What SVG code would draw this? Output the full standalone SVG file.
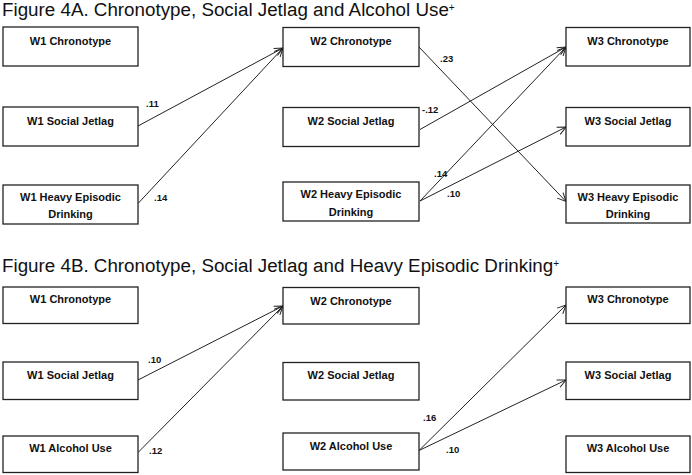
<svg xmlns="http://www.w3.org/2000/svg" width="692" height="475" viewBox="0 0 692 475">
<style>
.title{font-family:"Liberation Sans",Arial,sans-serif;font-size:18.8px;fill:#111}
.sup{font-size:10px}
.box{fill:#fff;stroke:#222;stroke-width:1.3}
.lbl{font-family:"Liberation Sans",Arial,sans-serif;font-weight:bold;font-size:11px;fill:#111;text-anchor:middle}
.coef{font-family:"Liberation Sans",Arial,sans-serif;font-weight:bold;font-size:9.5px;fill:#111}
.edge{fill:none;stroke:#222;stroke-width:1;marker-end:url(#arr)}
</style>
<defs>
<marker id="arr" viewBox="0 0 10 10" refX="9.5" refY="5" markerWidth="10" markerHeight="10" markerUnits="userSpaceOnUse" orient="auto">
<path d="M1,1 L9.5,5 L1,9" fill="none" stroke="#222" stroke-width="1"/>
</marker>
</defs>
<rect width="692" height="475" fill="#fff"/>
<text class="title" x="2" y="16">Figure 4A. Chronotype, Social Jetlag and Alcohol Use<tspan class="sup" dy="-5">+</tspan></text>
<text class="title" x="2" y="272">Figure 4B. Chronotype, Social Jetlag and Heavy Episodic Drinking<tspan class="sup" dy="-5">+</tspan></text>

<g id="connectors">
<path class="edge" d="M138,126 L283,48"/>
<path class="edge" d="M138,203.5 L283,48"/>
<path class="edge" d="M419,47 L566,201.5"/>
<path class="edge" d="M420,129.5 L566,47"/>
<path class="edge" d="M420,201 L566,47"/>
<path class="edge" d="M420,201 L566,127"/>
<path class="edge" d="M138,380 L283,306"/>
<path class="edge" d="M138,452.5 L283,306"/>
<path class="edge" d="M419,450.5 L566,305"/>
<path class="edge" d="M419,450.5 L566,380"/>
<text class="coef" x="146" y="107">.11</text>
<text class="coef" x="154" y="201">.14</text>
<text class="coef" x="440" y="62">.23</text>
<text class="coef" x="422" y="113">-.12</text>
<text class="coef" x="434" y="177">.14</text>
<text class="coef" x="447" y="197">.10</text>
<text class="coef" x="148" y="363">.10</text>
<text class="coef" x="149" y="454">.12</text>
<text class="coef" x="423" y="421">.16</text>
<text class="coef" x="446" y="453">.10</text>
</g>

<g id="a_w1_chronotype"><rect class="box" x="3" y="27" width="135" height="39"/><text class="lbl" x="70.5" y="44.5">W1 Chronotype</text></g>
<g id="a_w1_sj"><rect class="box" x="3" y="107" width="135" height="39"/><text class="lbl" x="70.5" y="124.5">W1 Social Jetlag</text></g>
<g id="a_w1_hed"><rect class="box" x="3" y="185" width="135" height="39"/><text class="lbl" x="70.5" y="200.5">W1 Heavy Episodic</text><text class="lbl" x="70.5" y="218">Drinking</text></g>

<g id="a_w2_chronotype"><rect class="box" x="283" y="27.5" width="136" height="39"/><text class="lbl" x="351" y="45">W2 Chronotype</text></g>
<g id="a_w2_sj"><rect class="box" x="283" y="107.5" width="136" height="39"/><text class="lbl" x="351" y="125">W2 Social Jetlag</text></g>
<g id="a_w2_hed"><rect class="box" x="283" y="182" width="136" height="39"/><text class="lbl" x="351" y="198">W2 Heavy Episodic</text><text class="lbl" x="351" y="215.5">Drinking</text></g>

<g id="a_w3_chronotype"><rect class="box" x="566" y="27.5" width="124" height="38.5"/><text class="lbl" x="628" y="45">W3 Chronotype</text></g>
<g id="a_w3_sj"><rect class="box" x="566" y="107.5" width="124" height="38.5"/><text class="lbl" x="628" y="125">W3 Social Jetlag</text></g>
<g id="a_w3_hed"><rect class="box" x="566" y="185" width="124" height="38"/><text class="lbl" x="628" y="200.5">W3 Heavy Episodic</text><text class="lbl" x="628" y="218">Drinking</text></g>

<g id="b_w1_chronotype"><rect class="box" x="3" y="287" width="135" height="36.5"/><text class="lbl" x="70.5" y="303">W1 Chronotype</text></g>
<g id="b_w1_sj"><rect class="box" x="3" y="362" width="135" height="37.5"/><text class="lbl" x="70.5" y="379">W1 Social Jetlag</text></g>
<g id="b_w1_alc"><rect class="box" x="3" y="436" width="135" height="36.5"/><text class="lbl" x="70.5" y="452">W1 Alcohol Use</text></g>

<g id="b_w2_chronotype"><rect class="box" x="283" y="287.5" width="136" height="36.5"/><text class="lbl" x="351" y="304.5">W2 Chronotype</text></g>
<g id="b_w2_sj"><rect class="box" x="283" y="362.5" width="136" height="37.5"/><text class="lbl" x="351" y="379">W2 Social Jetlag</text></g>
<g id="b_w2_alc"><rect class="box" x="283" y="433" width="136" height="37"/><text class="lbl" x="351" y="450">W2 Alcohol Use</text></g>

<g id="b_w3_chronotype"><rect class="box" x="566" y="287" width="124" height="36.5"/><text class="lbl" x="628" y="303">W3 Chronotype</text></g>
<g id="b_w3_sj"><rect class="box" x="566" y="362" width="124" height="37.5"/><text class="lbl" x="628" y="379">W3 Social Jetlag</text></g>
<g id="b_w3_alc"><rect class="box" x="566" y="436" width="124" height="36.5"/><text class="lbl" x="628" y="451.5">W3 Alcohol Use</text></g>
</svg>
